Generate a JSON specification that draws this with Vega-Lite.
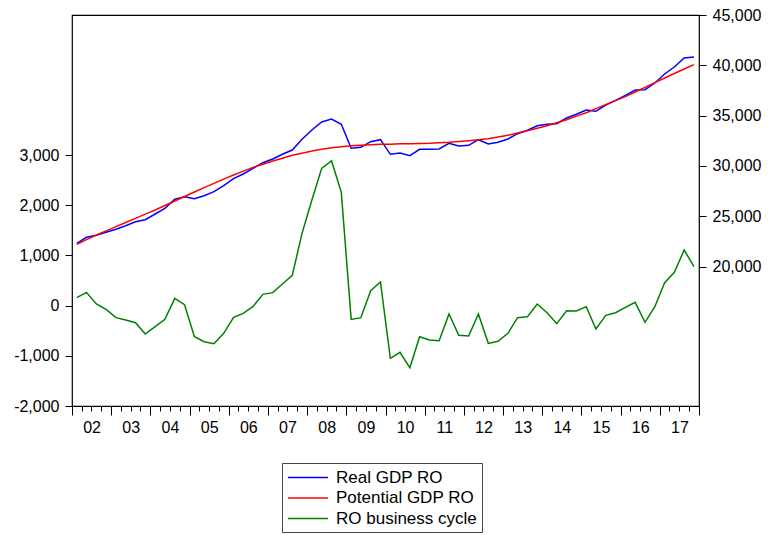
{
  "$schema": "https://vega.github.io/schema/vega-lite/v6.json",
  "width": 627,
  "height": 391,
  "autosize": "none",
  "padding": {"left": 72, "top": 15, "right": 70, "bottom": 129},
  "background": "white",
  "config": {
    "font": "Liberation Sans",
    "view": {"stroke": "#000", "strokeWidth": 1.2},
    "axis": {"grid": false, "domain": false, "labelFont": "Liberation Sans", "labelFontSize": 16, "labelColor": "#000", "tickColor": "#000", "title": null}
  },
  "data": {"values": [
    {"date": "2002-02-15", "Real GDP RO": 22316, "Potential GDP RO": 22213, "RO business cycle": 158},
    {"date": "2002-05-16", "Real GDP RO": 22912, "Potential GDP RO": 22677, "RO business cycle": 264},
    {"date": "2002-08-16", "Real GDP RO": 23111, "Potential GDP RO": 23140, "RO business cycle": 32},
    {"date": "2002-11-15", "Real GDP RO": 23409, "Potential GDP RO": 23554, "RO business cycle": -74},
    {"date": "2003-02-15", "Real GDP RO": 23707, "Potential GDP RO": 23968, "RO business cycle": -240},
    {"date": "2003-05-16", "Real GDP RO": 24065, "Potential GDP RO": 24382, "RO business cycle": -287},
    {"date": "2003-08-16", "Real GDP RO": 24462, "Potential GDP RO": 24796, "RO business cycle": -340},
    {"date": "2003-11-15", "Real GDP RO": 24661, "Potential GDP RO": 25210, "RO business cycle": -566},
    {"date": "2004-02-15", "Real GDP RO": 25227, "Potential GDP RO": 25624, "RO business cycle": -420},
    {"date": "2004-05-16", "Real GDP RO": 25793, "Potential GDP RO": 26072, "RO business cycle": -274},
    {"date": "2004-08-16", "Real GDP RO": 26688, "Potential GDP RO": 26519, "RO business cycle": 145},
    {"date": "2004-11-15", "Real GDP RO": 26946, "Potential GDP RO": 26966, "RO business cycle": 19},
    {"date": "2005-02-15", "Real GDP RO": 26747, "Potential GDP RO": 27413, "RO business cycle": -619},
    {"date": "2005-05-16", "Real GDP RO": 27046, "Potential GDP RO": 27843, "RO business cycle": -719},
    {"date": "2005-08-16", "Real GDP RO": 27443, "Potential GDP RO": 28274, "RO business cycle": -759},
    {"date": "2005-11-15", "Real GDP RO": 28039, "Potential GDP RO": 28688, "RO business cycle": -553},
    {"date": "2006-02-15", "Real GDP RO": 28735, "Potential GDP RO": 29102, "RO business cycle": -234},
    {"date": "2006-05-16", "Real GDP RO": 29202, "Potential GDP RO": 29483, "RO business cycle": -154},
    {"date": "2006-08-16", "Real GDP RO": 29768, "Potential GDP RO": 29864, "RO business cycle": -15},
    {"date": "2006-11-15", "Real GDP RO": 30324, "Potential GDP RO": 30178, "RO business cycle": 224},
    {"date": "2007-02-15", "Real GDP RO": 30692, "Potential GDP RO": 30493, "RO business cycle": 258},
    {"date": "2007-05-16", "Real GDP RO": 31159, "Potential GDP RO": 30775, "RO business cycle": 430},
    {"date": "2007-08-16", "Real GDP RO": 31586, "Potential GDP RO": 31056, "RO business cycle": 603},
    {"date": "2007-11-15", "Real GDP RO": 32649, "Potential GDP RO": 31271, "RO business cycle": 1439},
    {"date": "2008-02-15", "Real GDP RO": 33573, "Potential GDP RO": 31487, "RO business cycle": 2104},
    {"date": "2008-05-16", "Real GDP RO": 34368, "Potential GDP RO": 31652, "RO business cycle": 2734},
    {"date": "2008-08-16", "Real GDP RO": 34666, "Potential GDP RO": 31818, "RO business cycle": 2887},
    {"date": "2008-11-15", "Real GDP RO": 34140, "Potential GDP RO": 31917, "RO business cycle": 2256},
    {"date": "2009-02-15", "Real GDP RO": 31755, "Potential GDP RO": 32017, "RO business cycle": -274},
    {"date": "2009-05-16", "Real GDP RO": 31854, "Potential GDP RO": 32066, "RO business cycle": -240},
    {"date": "2009-08-16", "Real GDP RO": 32411, "Potential GDP RO": 32116, "RO business cycle": 297},
    {"date": "2009-11-15", "Real GDP RO": 32610, "Potential GDP RO": 32149, "RO business cycle": 470},
    {"date": "2010-02-15", "Real GDP RO": 31159, "Potential GDP RO": 32166, "RO business cycle": -1050},
    {"date": "2010-05-16", "Real GDP RO": 31288, "Potential GDP RO": 32199, "RO business cycle": -931},
    {"date": "2010-08-16", "Real GDP RO": 31020, "Potential GDP RO": 32215, "RO business cycle": -1236},
    {"date": "2010-11-15", "Real GDP RO": 31656, "Potential GDP RO": 32232, "RO business cycle": -619},
    {"date": "2011-02-15", "Real GDP RO": 31656, "Potential GDP RO": 32248, "RO business cycle": -685},
    {"date": "2011-05-16", "Real GDP RO": 31686, "Potential GDP RO": 32298, "RO business cycle": -699},
    {"date": "2011-08-16", "Real GDP RO": 32252, "Potential GDP RO": 32348, "RO business cycle": -167},
    {"date": "2011-11-15", "Real GDP RO": 31984, "Potential GDP RO": 32431, "RO business cycle": -592},
    {"date": "2012-02-15", "Real GDP RO": 32053, "Potential GDP RO": 32513, "RO business cycle": -606},
    {"date": "2012-05-16", "Real GDP RO": 32610, "Potential GDP RO": 32613, "RO business cycle": -167},
    {"date": "2012-08-16", "Real GDP RO": 32182, "Potential GDP RO": 32712, "RO business cycle": -752},
    {"date": "2012-11-15", "Real GDP RO": 32351, "Potential GDP RO": 32878, "RO business cycle": -712},
    {"date": "2013-02-15", "Real GDP RO": 32679, "Potential GDP RO": 33043, "RO business cycle": -553},
    {"date": "2013-05-16", "Real GDP RO": 33206, "Potential GDP RO": 33275, "RO business cycle": -240},
    {"date": "2013-08-16", "Real GDP RO": 33544, "Potential GDP RO": 33507, "RO business cycle": -221},
    {"date": "2013-11-15", "Real GDP RO": 34001, "Potential GDP RO": 33755, "RO business cycle": 32},
    {"date": "2014-02-15", "Real GDP RO": 34140, "Potential GDP RO": 34004, "RO business cycle": -141},
    {"date": "2014-05-16", "Real GDP RO": 34199, "Potential GDP RO": 34302, "RO business cycle": -360},
    {"date": "2014-08-16", "Real GDP RO": 34766, "Potential GDP RO": 34600, "RO business cycle": -101},
    {"date": "2014-11-15", "Real GDP RO": 35133, "Potential GDP RO": 34948, "RO business cycle": -108},
    {"date": "2015-02-15", "Real GDP RO": 35561, "Potential GDP RO": 35295, "RO business cycle": -21},
    {"date": "2015-05-16", "Real GDP RO": 35432, "Potential GDP RO": 35693, "RO business cycle": -466},
    {"date": "2015-08-16", "Real GDP RO": 36057, "Potential GDP RO": 36090, "RO business cycle": -194},
    {"date": "2015-11-15", "Real GDP RO": 36524, "Potential GDP RO": 36488, "RO business cycle": -141},
    {"date": "2016-02-15", "Real GDP RO": 37021, "Potential GDP RO": 36885, "RO business cycle": -35},
    {"date": "2016-05-16", "Real GDP RO": 37548, "Potential GDP RO": 37349, "RO business cycle": 65},
    {"date": "2016-08-16", "Real GDP RO": 37577, "Potential GDP RO": 37813, "RO business cycle": -333},
    {"date": "2016-11-15", "Real GDP RO": 38243, "Potential GDP RO": 38276, "RO business cycle": -21},
    {"date": "2017-02-15", "Real GDP RO": 39138, "Potential GDP RO": 38740, "RO business cycle": 457},
    {"date": "2017-05-16", "Real GDP RO": 39833, "Potential GDP RO": 39187, "RO business cycle": 663},
    {"date": "2017-08-16", "Real GDP RO": 40727, "Potential GDP RO": 39634, "RO business cycle": 1108},
    {"date": "2017-11-15", "Real GDP RO": 40827, "Potential GDP RO": 40065, "RO business cycle": 775}
  ]},
  "layer": [
    {
      "transform": [{"fold": ["RO business cycle"], "as": ["series", "value"]}],
      "mark": {"type": "line", "strokeWidth": 1.5},
      "encoding": {
        "x": {
          "field": "date", "type": "temporal",
          "scale": {"type": "utc", "domain": [{"year": 2002, "month": 1, "date": 1, "utc": true}, {"year": 2018, "month": 1, "date": 1, "utc": true}]},
          "axis": {"orient": "bottom", "tickCount": {"interval": "year", "step": 1}, "tickSize": 9, "labelPadding": 4, "labelOffset": 19.6, "labelExpr": "utcyear(datum.value) >= 2018 ? '' : utcFormat(datum.value, '%y')", "labelOverlap": false, "labelBound": false, "labelFlush": false}
        },
        "y": {
          "field": "value", "type": "quantitative",
          "scale": {"domain": [-2000, 5790], "nice": false, "zero": false},
          "axis": {"orient": "left", "values": [-2000, -1000, 0, 1000, 2000, 3000], "format": ",.0f", "labelExpr": "replace(datum.label, '\u2212', '-')", "tickSize": 7, "labelPadding": 6}
        },
        "color": {
          "field": "series", "type": "nominal",
          "scale": {"domain": ["Real GDP RO", "Potential GDP RO", "RO business cycle"], "range": ["#0000ff", "#ff0000", "#008000"]},
          "legend": {"orient": "none", "legendX": 210, "legendY": 448, "title": null, "direction": "vertical", "symbolType": "M-1,0H3.7", "symbolSize": 289, "symbolStrokeWidth": 1.5, "labelFontSize": 17, "labelFont": "Liberation Sans", "labelColor": "#000", "labelOffset": 30, "rowPadding": 2.5, "padding": 5, "strokeColor": "#444", "fillColor": "white"}
        }
      }
    },
    {
      "transform": [{"fold": ["Real GDP RO", "Potential GDP RO"], "as": ["series", "value"]}],
      "mark": {"type": "line", "strokeWidth": 1.5},
      "encoding": {
        "x": {
          "field": "date", "type": "temporal",
          "axis": {"orient": "bottom", "tickCount": {"interval": "month", "step": 3}, "tickSize": 5, "labels": false}
        },
        "y": {
          "field": "value", "type": "quantitative",
          "scale": {"domain": [6150, 45000], "nice": false, "zero": false},
          "axis": {"orient": "right", "values": [20000, 25000, 30000, 35000, 40000, 45000], "format": ",.0f", "tickSize": 7, "labelPadding": 6}
        },
        "color": {"field": "series", "type": "nominal"}
      }
    }
  ],
  "resolve": {"scale": {"y": "independent"}, "axis": {"x": "independent", "y": "independent"}}
}
